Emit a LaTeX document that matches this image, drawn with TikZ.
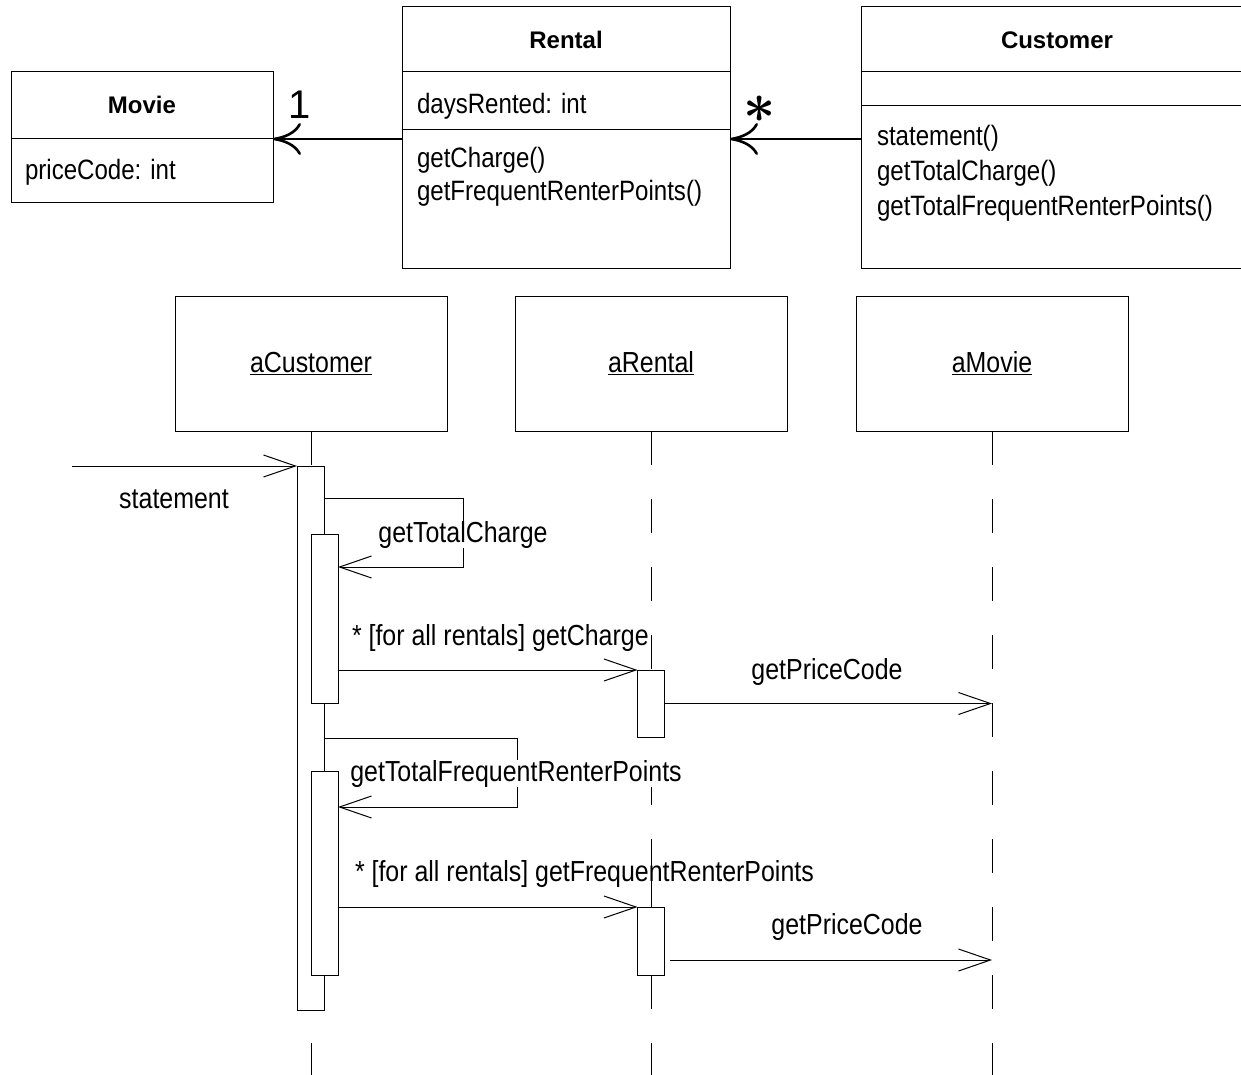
\documentclass[tikz,border=0pt]{standalone}
\usepackage{fontspec}
\setmainfont{Liberation Sans}
\newfontfamily\narrowfont{Liberation Sans}[FakeStretch=0.86]
\usetikzlibrary{arrows.meta,calc}
\begin{document}
\begin{tikzpicture}[x=1pt,y=-1pt,
  every node/.style={inner sep=0pt, outer sep=0pt},
  classbox/.style={draw, line width=1pt, rectangle},
  divider/.style={line width=1pt},
  title/.style={font=\fontsize{24}{28}\selectfont\bfseries, anchor=base},
  member/.style={font=\narrowfont\fontsize{28}{33}\selectfont, anchor=base west},
  assoc/.style={line width=2.6pt, -{Computer Modern Rightarrow[length=28pt,width=32pt]}},
  mult/.style={font=\fontsize{40}{40}\selectfont},
  objbox/.style={draw, line width=1pt, minimum width=272pt, minimum height=135pt,
    font=\narrowfont\fontsize{29}{33}\selectfont},
  life/.style={line width=1pt, dash pattern=on 34pt off 34pt},
  bar/.style={draw, fill=white, line width=1pt, minimum width=27pt},
  msg/.style={line width=1pt, -{Straight Barb[length=32pt,width=22pt,line width=1pt]}},
  lbl/.style={font=\narrowfont\fontsize{29}{33}\selectfont},
]
\useasboundingbox (0,0) rectangle (1241,1075);

% ---------------- class diagram ----------------
\node[classbox, minimum width=262pt, minimum height=131pt] (movie) at (142,137.5) {};
\draw[divider] ([yshift=-67pt]movie.north west) -- ([yshift=-67pt]movie.north east);
\node[title] (movieT) at (142,114) {Movie};
\node[member] (movieA) at (25,180) {priceCode: int};

\node[classbox, minimum width=328pt, minimum height=261pt] (rental) at (566,137.5) {};
\draw[divider] ([yshift=-65pt]rental.north west) -- ([yshift=-65pt]rental.north east);
\draw[divider] ([yshift=-123pt]rental.north west) -- ([yshift=-123pt]rental.north east);
\node[title] (rentalT) at (566,49) {Rental};
\node[member] (rentalA) at (417,114) {daysRented: int};
\node[member] (rentalM1) at (417,168) {getCharge()};
\node[member] (rentalM2) at (417,201) {getFrequentRenterPoints()};

\node[classbox, minimum width=392pt, minimum height=261pt] (customer) at (1057,137.5) {};
\draw[divider] ([yshift=-65pt]customer.north west) -- ([yshift=-65pt]customer.north east);
\draw[divider] ([yshift=-99pt]customer.north west) -- ([yshift=-99pt]customer.north east);
\node[title] (customerT) at (1057,49) {Customer};
\node[member] (customerM1) at (877,146) {statement()};
\node[member] (customerM2) at (877,181) {getTotalCharge()};
\node[member] (customerM3) at (877,216) {getTotalFrequentRenterPoints()};

% associations with multiplicities
\draw[assoc] ([yshift=-132pt]rental.north west) -- ([yshift=-67pt]movie.north east);
\draw[assoc] ([yshift=-132pt]customer.north west) -- ([yshift=-132pt]rental.north east);
\node[mult] (multOne) at (300,105) {1};
\node (multMany) at (760,109) {\scalebox{5.6}{\boldmath$\ast$}};

% ---------------- sequence diagram ----------------
\node[objbox] (cust) at (311,363.5) {\underline{aCustomer}};
\node[objbox] (rent) at (651,363.5) {\underline{aRental}};
\node[objbox] (mov)  at (992,363.5) {\underline{aMovie}};

\coordinate (custEnd) at (311,1075);
\coordinate (rentEnd) at (651,1075);
\coordinate (movEnd)  at (992,1075);
\draw[life] (cust.south) -- (custEnd);
\draw[life] (rent.south) -- (rentEnd);
\draw[life] (mov.south)  -- (movEnd);

% activations
\node[bar, minimum height=544pt] (ocb)  at (310.5,738) {};
\node[bar, minimum height=169pt] (icb1) at (324.5,618.5) {};
\node[bar, minimum height=204pt] (icb2) at (324.5,873) {};
\node[bar, minimum height=67pt]  (rb1)  at (651,703.5) {};
\node[bar, minimum height=68pt]  (rb2)  at (651,941) {};
\draw[line width=1pt] (rb2.north) -- ([yshift=33pt]rb2.north);

% messages
\coordinate (src) at (72,466);
\draw[msg] (src) -- (ocb.north west);
\node[lbl, anchor=base] (lStatement) at (174,508) {statement};

\draw[msg] ([yshift=-32pt]ocb.north east) -- ++(139,0) |- ([yshift=-33pt]icb1.north east);
\node[lbl, anchor=base, fill=white] (lTotal) at (463,542) {getTotalCharge};

\draw[msg] ([yshift=-136pt]icb1.north east) -- (rb1.north west);
\node[lbl, anchor=base west] (lCharge) at (352,645) {* [for all rentals] getCharge};

\draw[msg] (rb1.east) -- (rb1.east -| mov.south);
\node[lbl, anchor=base] (lPrice1) at (827,679) {getPriceCode};

\draw[msg] ([yshift=-272pt]ocb.north east) -- ++(193,0) |- ([yshift=-36pt]icb2.north east);
\node[lbl, anchor=base, fill=white] (lTotalFRP) at (516,781) {getTotalFrequentRenterPoints};

\draw[msg] ([yshift=-136pt]icb2.north east) -- (rb2.north west);
\node[lbl, anchor=base west] (lFRP) at (355,881) {* [for all rentals] getFrequentRenterPoints};

\coordinate (pc2) at ([shift={(5pt,-53pt)}]rb2.north east);
\draw[msg] (pc2) -- (pc2 -| mov.south);
\node[lbl, anchor=base] (lPrice2) at (847,934) {getPriceCode};
\end{tikzpicture}
\end{document}
